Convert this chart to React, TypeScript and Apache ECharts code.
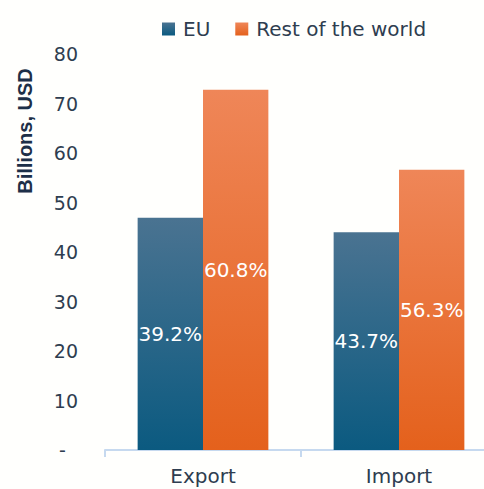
import React, { useEffect, useRef } from "react";
import * as echarts from "echarts";

const categories = ["Export", "Import"];
const euValues = [46.9, 44.0];
const rowValues = [72.8, 56.6];
const euShares = ["39.2%", "43.7%"];
const rowShares = ["60.8%", "56.3%"];
const yTicks = { min: 0, max: 80, interval: 10 };

const textColor = "#2e3d50";

export default function App() {
  const ref = useRef<HTMLDivElement>(null);
  useEffect(() => {
    if (!ref.current) return;
    const chart = echarts.init(ref.current, null, { renderer: "svg" });
    const grad = (top: string, bottom: string) =>
      new echarts.graphic.LinearGradient(0, 0, 0, 1, [
        { offset: 0, color: top },
        { offset: 1, color: bottom },
      ]);
    chart.setOption({
      animation: false,
      backgroundColor: "#fffffd",
      legend: {
        data: ["EU", "Rest of the world"],
        left: 162,
        top: 19,
        padding: 0,
        icon: "rect",
        itemWidth: 13,
        itemHeight: 13,
        itemGap: 25,
        textStyle: {
          fontFamily: "DejaVu Sans",
          fontSize: 20,
          color: textColor,
          padding: [0, 0, 0, 3],
        },
      },
      grid: {
        left: 105,
        top: 54,
        width: 392,
        height: 396,
        containLabel: false,
        outerBoundsMode: "none",
      },
      xAxis: {
        type: "category",
        data: categories,
        axisLine: { show: true, lineStyle: { color: "#c6d9ef", width: 2 } },
        axisTick: { show: true, length: 7, lineStyle: { color: "#c6d9ef", width: 2 } },
        axisLabel: {
          margin: 16,
          fontFamily: "DejaVu Sans",
          fontSize: 20,
          color: textColor,
        },
      },
      yAxis: {
        type: "value",
        min: yTicks.min,
        max: yTicks.max,
        interval: yTicks.interval,
        axisLine: { show: false },
        axisTick: { show: false },
        splitLine: { show: false },
        axisLabel: {
          margin: 27,
          fontFamily: "DejaVu Sans",
          fontSize: 19,
          color: textColor,
          formatter: (v: number) => (v === 0 ? "-  " : String(v)),
        },
      },
      graphic: [
        {
          type: "text",
          x: 25,
          y: 131,
          rotation: Math.PI / 2,
          style: {
            text: "Billions, USD",
            fontFamily: "Liberation Sans",
            fontWeight: "bold",
            fontSize: 20,
            fill: "#1d2f48",
            align: "center",
            verticalAlign: "middle",
          },
        },
      ],
      series: [
        {
          name: "EU",
          type: "bar",
          data: euValues,
          barGap: "0%",
          barCategoryGap: "33.3%",
          itemStyle: { color: grad("#4a7391", "#0b5a80") },
          label: {
            show: true,
            position: "inside",
            color: "#ffffff",
            fontFamily: "DejaVu Sans",
            fontSize: 20,
            formatter: (p: any) => euShares[p.dataIndex],
          },
        },
        {
          name: "Rest of the world",
          type: "bar",
          data: rowValues,
          itemStyle: { color: grad("#ef8658", "#e4611c") },
          label: {
            show: true,
            position: "inside",
            color: "#ffffff",
            fontFamily: "DejaVu Sans",
            fontSize: 20,
            formatter: (p: any) => rowShares[p.dataIndex],
          },
        },
      ],
    });
    return () => chart.dispose();
  }, []);
  return <div ref={ref} style={{ width: 484, height: 489, position: "absolute", left: 0, top: 0 }} />;
}
